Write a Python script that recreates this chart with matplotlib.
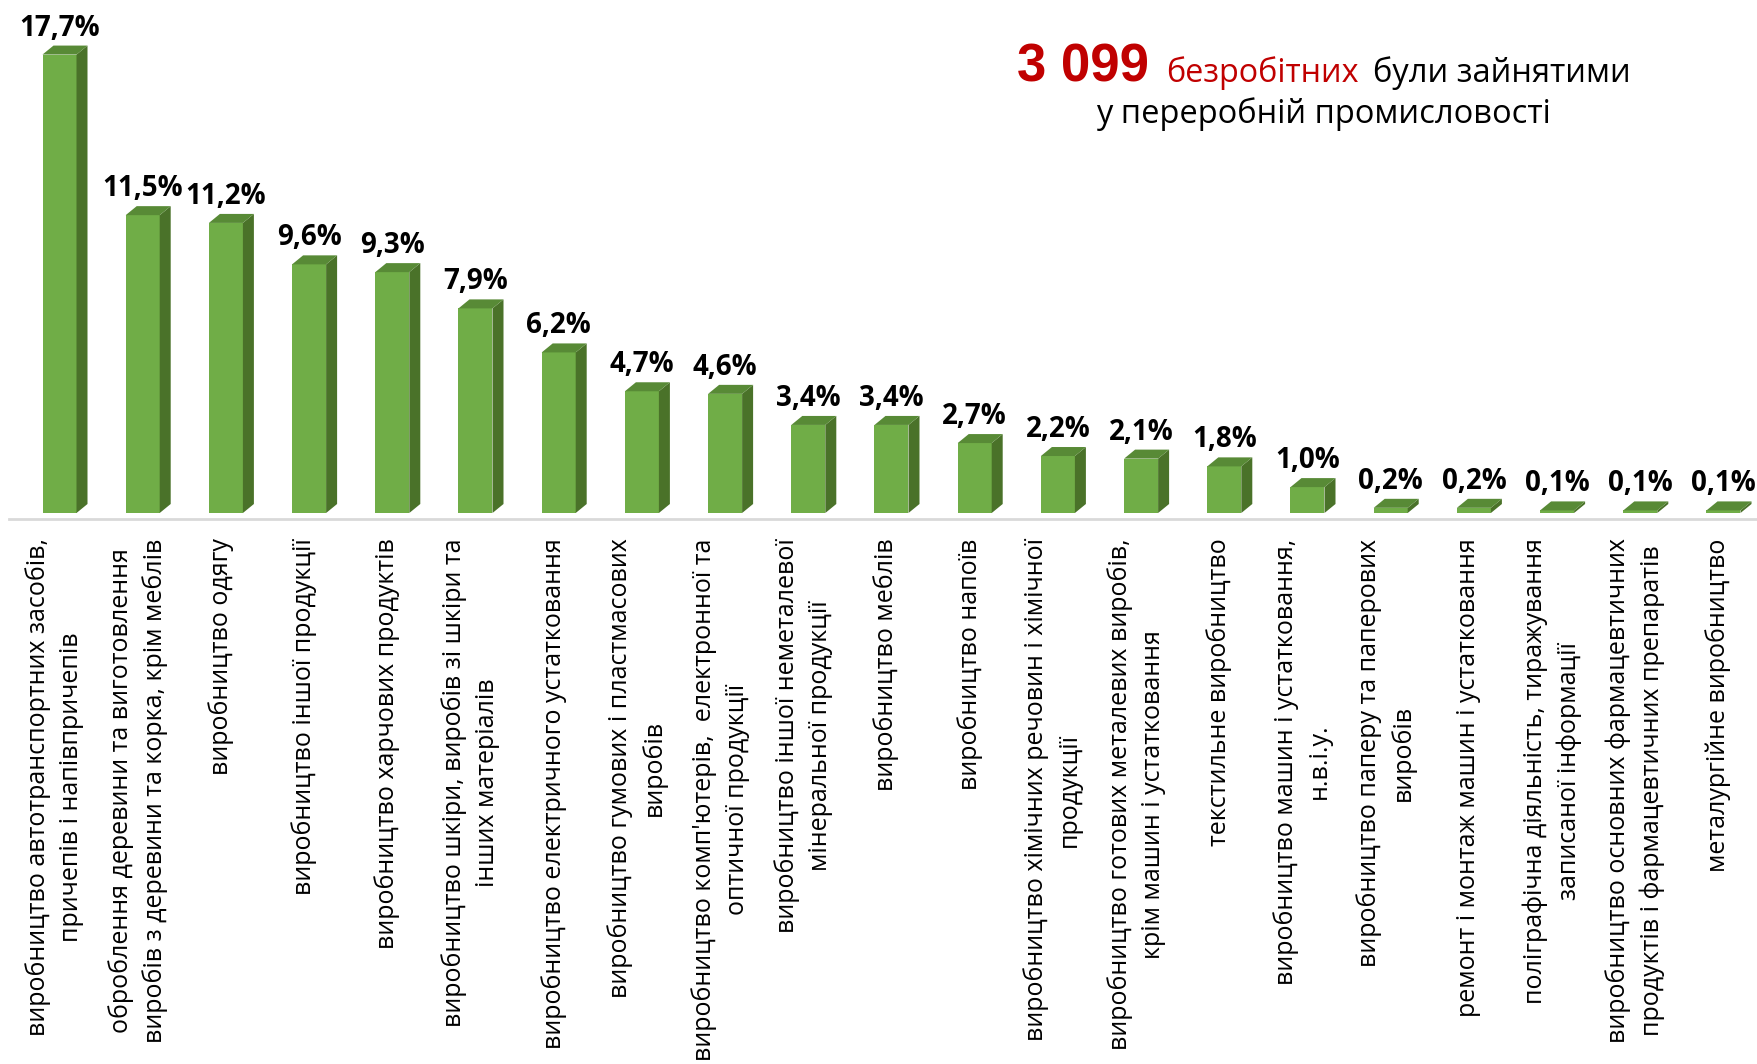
import numpy as np
import matplotlib
matplotlib.use('agg')
import matplotlib.pyplot as plt
from matplotlib.patches import Polygon

plt.rcParams['font.family'] = ['Open Sans', 'DejaVu Sans']

categories = [
    "виробництво автотранспортних засобів,\nпричепів і напівпричепів",
    "оброблення деревини та виготовлення\nвиробів з деревини та корка, крім меблів",
    "виробництво одягу",
    "виробництво іншої продукції",
    "виробництво харчових продуктів",
    "виробництво шкіри, виробів зі шкіри та\nінших матеріалів",
    "виробництво електричного устатковання",
    "виробництво гумових і пластмасових\nвиробів",
    "виробництво комп'ютерів,  електронної та\nоптичної продукції",
    "виробництво іншої неметалевої\nмінеральної продукції",
    "виробництво меблів",
    "виробництво напоїв",
    "виробництво хімічних речовин і хімічної\nпродукції",
    "виробництво готових металевих виробів,\nкрім машин і устатковання",
    "текстильне виробництво",
    "виробництво машин і устатковання,\nн.в.і.у.",
    "виробництво паперу та паперових\nвиробів",
    "ремонт і монтаж машин і устатковання",
    "поліграфічна діяльність, тиражування\nзаписаної інформації",
    "виробництво основних фармацевтичних\nпродуктів і фармацевтичних препаратів",
    "металургійне виробництво",
]
shares = [17.7, 11.5, 11.2, 9.6, 9.3, 7.9, 6.2, 4.7, 4.6, 3.4, 3.4,
          2.7, 2.2, 2.1, 1.8, 1.0, 0.2, 0.2, 0.1, 0.1, 0.1]

W, H = 1758, 1064
step = 83.2      # px between bars
ppu = 25.9       # px per percent
x0pix, base = 59.5, 513

front_c = '#70ad47'
side_c = '#4a7229'
top_c = '#588a36'

fig = plt.figure(figsize=(W / 100, H / 100), dpi=100)
ax = fig.add_axes([9 / W, 1 - 519 / H, 1 - 9 / W, 519 / H])
ax.set_xlim((9 - x0pix) / step, (W - x0pix) / step)
ax.set_ylim(-6 / ppu, base / ppu)

x = np.arange(len(shares))
fw = 34 / step
ddx, ddy = 11 / step, 9 / ppu

ax.bar(x, shares, width=fw, color=front_c, linewidth=0, zorder=2)
for i, v in zip(x, shares):
    l, r = i - fw / 2, i + fw / 2
    ax.add_patch(Polygon([(r, 0), (r + ddx, ddy), (r + ddx, v + ddy), (r, v)],
                         closed=True, facecolor=side_c, edgecolor='none', zorder=2))
    ax.add_patch(Polygon([(l, v), (r, v), (r + ddx, v + ddy), (l + ddx, v + ddy)],
                         closed=True, facecolor=top_c, edgecolor='none', zorder=3))
    lab = f"{v:.1f}".replace('.', ',') + '%'
    ax.text(i, v + 19 / ppu, lab, ha='center', va='baseline',
            fontsize=20, fontweight='bold', color='black')

ax.set_xticks(x - 5 / step)
ax.set_xticklabels(categories, rotation=90, ha='center', va='top',
                   multialignment='center', linespacing=1.42,
                   fontsize=18, color='black')
ax.tick_params(axis='x', length=0, pad=14)
ax.set_yticks([])
for s in ['top', 'left', 'right']:
    ax.spines[s].set_visible(False)
ax.spines['bottom'].set_color('#d9d9d9')
ax.spines['bottom'].set_linewidth(2)

# header text
red = '#c00000'
fig.text(1017 / W, 1 - 82 / H, "3 099", color=red, fontsize=38, fontweight='bold',
         family=['Liberation Sans Narrow', 'Liberation Sans', 'DejaVu Sans'],
         ha='left', va='baseline')
fig.text(1166 / W, 1 - 82 / H, "безробітних", color=red, fontsize=23.3,
         ha='left', va='baseline')
fig.text(1373 / W, 1 - 82 / H, "були зайнятими", color='black', fontsize=23.5,
         ha='left', va='baseline')
fig.text(1323 / W, 1 - 123 / H, "у переробній промисловості", color='black',
         fontsize=23.5, ha='center', va='baseline')

fig.savefig('out.png', dpi=100)
